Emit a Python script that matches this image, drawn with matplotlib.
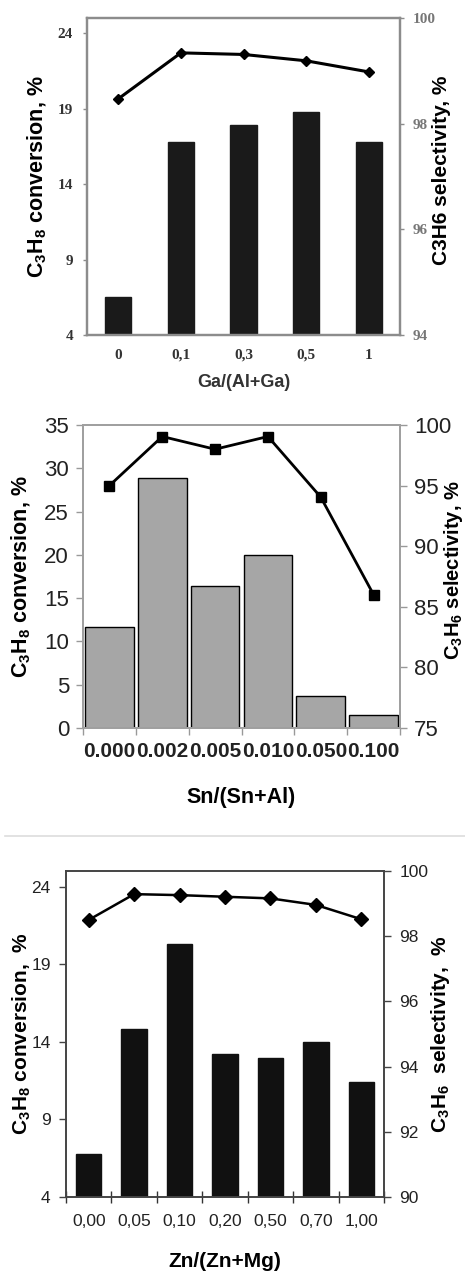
import numpy as np
import matplotlib
matplotlib.use("Agg")
import matplotlib.pyplot as plt
from matplotlib.lines import Line2D

plt.rcParams["font.family"] = ["Liberation Sans", "DejaVu Sans"]
plt.rcParams["mathtext.fontset"] = "custom"
plt.rcParams["mathtext.rm"] = "Liberation Sans:bold"
plt.rcParams["mathtext.bf"] = "Liberation Sans:bold"

# ---- data ----
ga_labels = ["0", "0,1", "0,3", "0,5", "1"]
ga_conv = [6.5, 16.8, 17.9, 18.8, 16.8]
ga_sel = [98.47, 99.34, 99.31, 99.19, 98.98]

sn_labels = ["0.000", "0.002", "0.005", "0.010", "0.050", "0.100"]
sn_conv = [11.7, 28.85, 16.35, 20.0, 3.7, 1.45]
sn_sel = [95.0, 99.05, 98.0, 99.05, 94.05, 86.0]

zn_labels = ["0,00", "0,05", "0,10", "0,20", "0,50", "0,70", "1,00"]
zn_conv = [6.8, 14.8, 20.3, 13.2, 12.95, 14.0, 11.4]
zn_sel = [98.5, 99.29, 99.26, 99.21, 99.16, 98.96, 98.52]

W, H = 465, 1272
fig = plt.figure(figsize=(W / 100, H / 100), dpi=100)


def rect(l, t, r, b):
    return [l / W, 1 - b / H, (r - l) / W, (b - t) / H]


# ---------------- panel a : Ga ----------------
ax1 = fig.add_axes(rect(87, 18, 400, 335))
x = np.arange(len(ga_labels))
ax1.bar(x, ga_conv, width=0.42, color="#1a1a1a", edgecolor="#1a1a1a")
ax1.set_xlim(-0.5, len(ga_labels) - 0.5)
ax1.set_ylim(4, 25)
ax1.set_yticks([4, 9, 14, 19, 24])
ax1.set_xticks(x)
ax1.set_xticklabels(ga_labels)
ax1b = ax1.twinx()
ax1b.plot(x, ga_sel, color="black", lw=2.2, marker="D", ms=5.5)
ax1b.set_ylim(94, 100)
ax1b.set_yticks([94, 96, 98, 100])
for a in (ax1, ax1b):
    for s in a.spines.values():
        s.set_color("#8c8c8c")
        s.set_linewidth(1.6)
    a.tick_params(colors="#8c8c8c", length=3, width=1)
    for lab in a.get_xticklabels() + a.get_yticklabels():
        lab.set_fontfamily("Liberation Serif")
        lab.set_fontweight("bold")
        lab.set_fontsize(11)
        lab.set_color("#333333")
ax1.tick_params(axis="x", length=0, pad=10)
ax1.tick_params(axis="y", pad=7)
ax1b.tick_params(axis="y", pad=6)
for lab in ax1b.get_yticklabels():
    lab.set_color("#777777")
ax1.set_ylabel("C$_3$H$_8$ conversion, %", fontsize=15.5, fontweight="bold")
ax1b.set_ylabel("C3H6 selectivity, %", fontsize=15, fontweight="bold")
ax1.yaxis.set_label_coords(-0.121, 0.5)
ax1b.yaxis.set_label_coords(1.102, 0.52)
ax1.set_xlabel("Ga/(Al+Ga)", fontsize=13, fontweight="bold", color="#333333")
ax1.xaxis.set_label_coords(0.5, -0.123)

# ---------------- panel b : Sn ----------------
ax2 = fig.add_axes(rect(83, 425, 400, 728))
x = np.arange(len(sn_labels))
ax2.bar(x, sn_conv, width=0.92, color="#a6a6a6", edgecolor="black", lw=1.0)
ax2.set_xlim(-0.5, len(sn_labels) - 0.5)
ax2.set_ylim(0, 35)
ax2.set_yticks(range(0, 36, 5))
ax2.set_xticks(x)
ax2.set_xticklabels(sn_labels, fontsize=15, fontweight="bold", color="#222222")
ax2.set_xticks(np.arange(-0.5, len(sn_labels)), minor=True)
ax2.tick_params(axis="x", which="major", length=0, pad=10)
ax2.tick_params(axis="x", which="minor", length=5, width=1, color="#999999")
ax2b = ax2.twinx()
ax2b.plot(x, sn_sel, color="black", lw=2, marker="s", ms=7.5)
ax2b.set_ylim(75, 100)
ax2b.set_yticks(range(75, 101, 5))
for a in (ax2, ax2b):
    for s in a.spines.values():
        s.set_color("#a0a0a0")
        s.set_linewidth(1.4)
    a.tick_params(axis="y", colors="#999999", length=5, width=1, labelcolor="#222222",
                  labelsize=16, pad=5)
ax2.set_ylabel("C$_3$H$_8$ conversion, %", fontsize=15.5, fontweight="bold")
ax2b.set_ylabel("C$_3$H$_6$ selectivity, %", fontsize=14.5, fontweight="bold")
ax2.yaxis.set_label_coords(-0.158, 0.5)
ax2b.yaxis.set_label_coords(1.132, 0.52)
ax2.set_xlabel("Sn/(Sn+Al)", fontsize=15.5, fontweight="bold")
ax2.xaxis.set_label_coords(0.5, -0.195)

# separator line
fig.add_artist(Line2D([5 / W, 1.0], [1 - 836 / H] * 2, color="#dddddd", lw=1.2,
                      transform=fig.transFigure))

# ---------------- panel c : Zn ----------------
ax3 = fig.add_axes(rect(66, 871, 384, 1197))
x = np.arange(len(zn_labels))
ax3.bar(x, zn_conv, width=0.56, color="#111111", edgecolor="#111111")
ax3.set_xlim(-0.5, len(zn_labels) - 0.5)
ax3.set_ylim(4, 25)
ax3.set_yticks([4, 9, 14, 19, 24])
ax3.set_xticks(x)
ax3.set_xticklabels(zn_labels, fontsize=12.5, color="#222222")
ax3.set_xticks(np.arange(-0.5, len(zn_labels)), minor=True)
ax3.tick_params(axis="x", which="major", length=0, pad=12)
ax3.tick_params(axis="x", which="minor", length=8, width=1, direction="inout",
                color="#333333")
ax3b = ax3.twinx()
ax3b.plot(x, zn_sel, color="black", lw=1.8, marker="D", ms=7)
ax3b.set_ylim(90, 100)
ax3b.set_yticks(range(90, 101, 2))
for a in (ax3, ax3b):
    for s in a.spines.values():
        s.set_color("#444444")
        s.set_linewidth(1.2)
    a.tick_params(axis="y", colors="#444444", length=5, width=1, labelcolor="#222222",
                  labelsize=12.5, pad=6)
ax3.set_ylabel("C$_3$H$_8$ conversion,  %", fontsize=15, fontweight="bold")
ax3b.set_ylabel("C$_3$H$_6$  selectivity,  %", fontsize=15, fontweight="bold")
ax3.yaxis.set_label_coords(-0.104, 0.5)
ax3b.yaxis.set_label_coords(1.142, 0.5)
ax3.set_xlabel("Zn/(Zn+Mg)", fontsize=15, fontweight="bold")
ax3.xaxis.set_label_coords(0.5, -0.169)

fig.savefig("out.png", dpi=100)
